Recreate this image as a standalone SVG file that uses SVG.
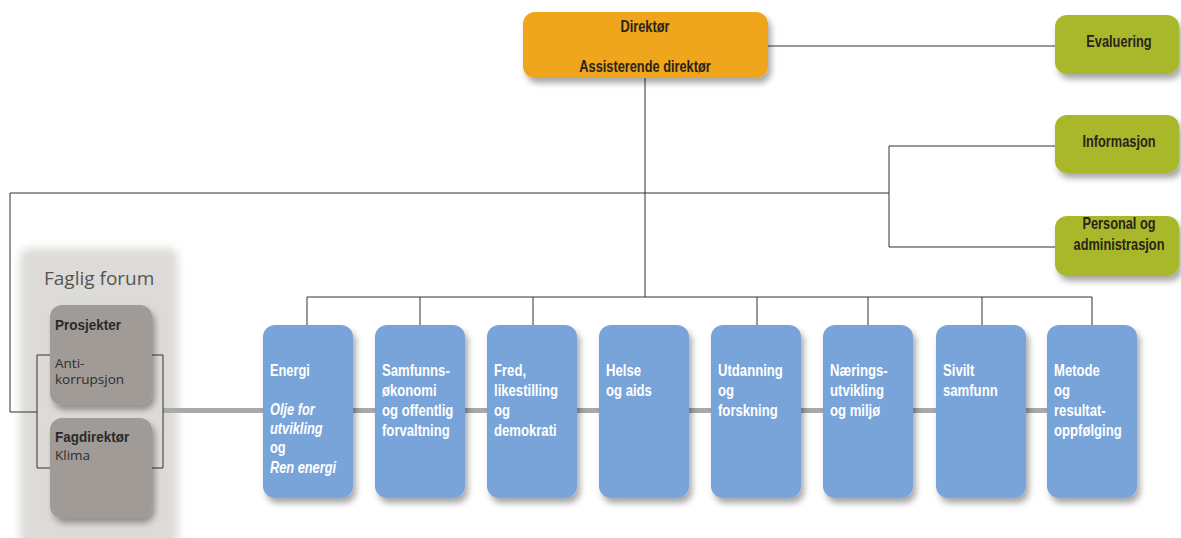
<svg xmlns="http://www.w3.org/2000/svg" width="1181" height="538" viewBox="0 0 1181 538">
<defs>
<filter id="sh" x="-20%" y="-20%" width="150%" height="150%">
<feDropShadow dx="3" dy="5" stdDeviation="3" flood-color="#000" flood-opacity="0.35"/>
</filter>
<filter id="soft" x="-20%" y="-10%" width="140%" height="120%">
<feGaussianBlur stdDeviation="4"/>
</filter>
<style>
.ln{stroke:#333;stroke-width:1;fill:none}
.bar{stroke:#a9a9ab;stroke-width:5;fill:none}
.blue{fill:#79a4d9;filter:url(#sh)}
.green{fill:#a8b82a;filter:url(#sh)}
.orange{fill:#efa51d;filter:url(#sh)}
.gray{fill:#a09b96;filter:url(#sh)}
.bt{font-family:"Liberation Sans",Arial,sans-serif;font-weight:bold;font-size:16px;fill:#fff}
.bi{font-style:italic}
.dt{font-family:"Liberation Sans",Arial,sans-serif;font-weight:bold;font-size:16px;fill:#2a2418;text-anchor:middle}
.gb{font-family:"Liberation Sans",Arial,sans-serif;font-weight:bold;font-size:15px;fill:#2a2a2a}
.gt{font-family:"Open Sans","DejaVu Sans",sans-serif;font-size:13.5px;fill:#2e2e2e}
</style>
</defs>
<rect width="1181" height="538" fill="#fff"/>

<g id="faglig-forum">
<rect x="20" y="248" width="158" height="300" rx="10" fill="#dddbd7" filter="url(#soft)"/>
<text x="44" y="285" font-family="Open Sans, Liberation Sans, sans-serif" font-size="19" fill="#555">Faglig forum</text>
</g>

<g id="connectors">
<line class="bar" x1="163" y1="410.5" x2="1050" y2="410.5"/>
<polyline class="ln" points="768,46 1055,46"/>
<polyline class="ln" points="645,78 645,297"/>
<polyline class="ln" points="307,325 307,297 1092,297 1092,325"/>
<line class="ln" x1="420" y1="297" x2="420" y2="325"/>
<line class="ln" x1="533" y1="297" x2="533" y2="325"/>
<line class="ln" x1="757" y1="297" x2="757" y2="325"/>
<line class="ln" x1="868" y1="297" x2="868" y2="325"/>
<line class="ln" x1="982" y1="297" x2="982" y2="325"/>
<polyline class="ln" points="10,412 10,193 889,193"/>
<polyline class="ln" points="1055,146 889,146 889,247 1055,247"/>
<polyline class="ln" points="10,412 37,412"/>
<polyline class="ln" points="50,355 37,355 37,468 50,468"/>
<polyline class="ln" points="152,355 163,355 163,468 152,468"/>
</g>

<g id="direktor">
<rect class="orange" x="523" y="12" width="245" height="66" rx="12"/>
<text class="dt" transform="translate(645 32) scale(0.8 1)">Direktør</text>
<text class="dt" transform="translate(645 72) scale(0.8 1)">Assisterende direktør</text>
</g>

<g id="evaluering">
<rect class="green" x="1055" y="15" width="124" height="59" rx="12"/>
<text class="dt" transform="translate(1119 47) scale(0.8 1)">Evaluering</text>
</g>
<g id="informasjon">
<rect class="green" x="1055" y="115" width="124" height="58" rx="12"/>
<text class="dt" transform="translate(1119 147) scale(0.8 1)">Informasjon</text>
</g>
<g id="personal">
<rect class="green" x="1055" y="216" width="124" height="60" rx="12"/>
<text class="dt" transform="translate(1119 229) scale(0.8 1)">Personal og</text>
<text class="dt" transform="translate(1119 250) scale(0.8 1)">administrasjon</text>
</g>

<g id="prosjekter">
<rect class="gray" x="50" y="305" width="102" height="100" rx="12"/>
<text class="gb" transform="translate(55 330) scale(0.9 1)">Prosjekter</text>
<text class="gt" x="55" y="368">Anti-</text>
<text class="gt" x="55" y="384">korrupsjon</text>
</g>
<g id="fagdirektor">
<rect class="gray" x="50" y="418" width="102" height="100" rx="12"/>
<text class="gb" transform="translate(55 442) scale(0.9 1)">Fagdirektør</text>
<text class="gt" x="55" y="460">Klima</text>
</g>

<g id="energi">
<rect class="blue" x="263" y="325" width="90" height="173" rx="12"/>
<text class="bt" transform="translate(270 376) scale(0.8 1)">Energi</text>
<text class="bt bi" transform="translate(270 415) scale(0.8 1)">Olje for</text>
<text class="bt bi" transform="translate(270 434) scale(0.8 1)">utvikling</text>
<text class="bt" transform="translate(270 453) scale(0.8 1)">og</text>
<text class="bt bi" transform="translate(270 473) scale(0.8 1)">Ren energi</text>
</g>
<g id="samfunnsokonomi">
<rect class="blue" x="375" y="325" width="90" height="173" rx="12"/>
<text class="bt" transform="translate(382 376) scale(0.82 1)">Samfunns-</text>
<text class="bt" transform="translate(382 396) scale(0.82 1)">økonomi</text>
<text class="bt" transform="translate(382 416) scale(0.82 1)">og offentlig</text>
<text class="bt" transform="translate(382 436) scale(0.82 1)">forvaltning</text>
</g>
<g id="fred">
<rect class="blue" x="487" y="325" width="90" height="173" rx="12"/>
<text class="bt" transform="translate(494 376) scale(0.82 1)">Fred,</text>
<text class="bt" transform="translate(494 396) scale(0.82 1)">likestilling</text>
<text class="bt" transform="translate(494 416) scale(0.82 1)">og</text>
<text class="bt" transform="translate(494 436) scale(0.82 1)">demokrati</text>
</g>
<g id="helse">
<rect class="blue" x="599" y="325" width="90" height="173" rx="12"/>
<text class="bt" transform="translate(606 376) scale(0.82 1)">Helse</text>
<text class="bt" transform="translate(606 396) scale(0.82 1)">og aids</text>
</g>
<g id="utdanning">
<rect class="blue" x="711" y="325" width="90" height="173" rx="12"/>
<text class="bt" transform="translate(718 376) scale(0.82 1)">Utdanning</text>
<text class="bt" transform="translate(718 396) scale(0.82 1)">og</text>
<text class="bt" transform="translate(718 416) scale(0.82 1)">forskning</text>
</g>
<g id="naeringsutvikling">
<rect class="blue" x="823" y="325" width="90" height="173" rx="12"/>
<text class="bt" transform="translate(830 376) scale(0.82 1)">Nærings-</text>
<text class="bt" transform="translate(830 396) scale(0.82 1)">utvikling</text>
<text class="bt" transform="translate(830 416) scale(0.82 1)">og miljø</text>
</g>
<g id="sivilt">
<rect class="blue" x="936" y="325" width="90" height="173" rx="12"/>
<text class="bt" transform="translate(943 376) scale(0.82 1)">Sivilt</text>
<text class="bt" transform="translate(943 396) scale(0.82 1)">samfunn</text>
</g>
<g id="metode">
<rect class="blue" x="1047" y="325" width="90" height="173" rx="12"/>
<text class="bt" transform="translate(1054 376) scale(0.82 1)">Metode</text>
<text class="bt" transform="translate(1054 396) scale(0.82 1)">og</text>
<text class="bt" transform="translate(1054 416) scale(0.82 1)">resultat-</text>
<text class="bt" transform="translate(1054 436) scale(0.82 1)">oppfølging</text>
</g>
</svg>
